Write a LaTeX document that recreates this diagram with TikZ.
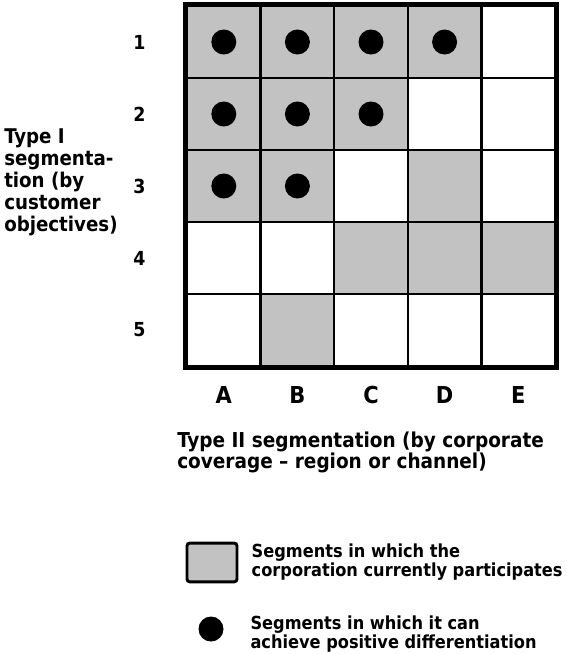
\documentclass[tikz,border=0pt]{standalone}
\usepackage{fontspec}
\setmainfont{DejaVu Sans Condensed}
\usetikzlibrary{positioning}
\definecolor{cellgray}{gray}{0.76}
\newcommand{\fsz}[2]{\bfseries\fontsize{#1}{#2}\selectfont\lineskiplimit=-20pt}

\begin{document}
\begin{tikzpicture}[x=0.75pt,y=-0.75pt,
  cell/.style={draw,line width=1.8pt,minimum width=55.2pt,minimum height=54pt,inner sep=0pt},
  dot/.style={circle,fill=black,minimum size=18.75pt,inner sep=0pt},
  lab/.style={inner sep=0pt,font=\fsz{14.5}{16}},
  leg/.style={align=left,inner sep=0pt,font=\fsz{13.5}{14.25}}]
  \useasboundingbox (0,0) rectangle (567,654);
  % grid of segments (100 = shaded)
  \foreach \r/\row in {1/{100,100,100,100,0},2/{100,100,100,0,0},3/{100,100,0,100,0},
                       4/{0,0,100,100,100},5/{0,100,0,0,0}}
    \foreach \s [count=\c] in \row
      \node[cell,fill=cellgray!\s] (c\r\c) at ({223.8+73.6*(\c-1)},{42+72*(\r-1)}) {};
  \draw[line width=3.5pt] (c11.north west) rectangle (c55.south east);
  % dots
  \foreach \r/\n in {1/4,2/3,3/2}
    \foreach \c in {1,...,\n}
      \node[dot] (d\r\c) at (c\r\c) {};
  % row and column labels
  \foreach \r in {1,...,5}
    \node[lab,left=30pt of c\r1] (r\r) {\r};
  \foreach \c/\l in {1/A,2/B,3/C,4/D,5/E}
    \node[inner sep=0pt,text height=12.8pt,text depth=0pt,font=\fsz{17.5}{20},below=14pt of c5\c] (k\l) {\l};
  % axis titles
  \node[align=left,inner sep=0pt,anchor=north west,font=\fsz{15.2}{16.5}] (typeI) at (4,128)
    {Type I\\segmenta-\\tion (by\\customer\\objectives)};
  \node[align=left,inner sep=0pt,anchor=north west,font=\fsz{15.4}{15.6}] (typeII) at (177,432)
    {Type II segmentation (by corporate\\coverage -- region or channel)};
  % legend
  \node[draw,fill=cellgray,line width=2.2pt,rounded corners=2pt,minimum width=37.5pt,
    minimum height=29pt,inner sep=0pt] (lgshade) at (212,562.5) {};
  \node[leg,right=9.75pt of lgshade] (lgtext1) {Segments in which the\\corporation currently participates};
  \node[dot] (lgdot) at (211,629) {};
  \node[leg,right=19.9pt of lgdot,yshift=-3.75pt] (lgtext2) {Segments in which it can\\achieve positive differentiation};
\end{tikzpicture}
\end{document}
